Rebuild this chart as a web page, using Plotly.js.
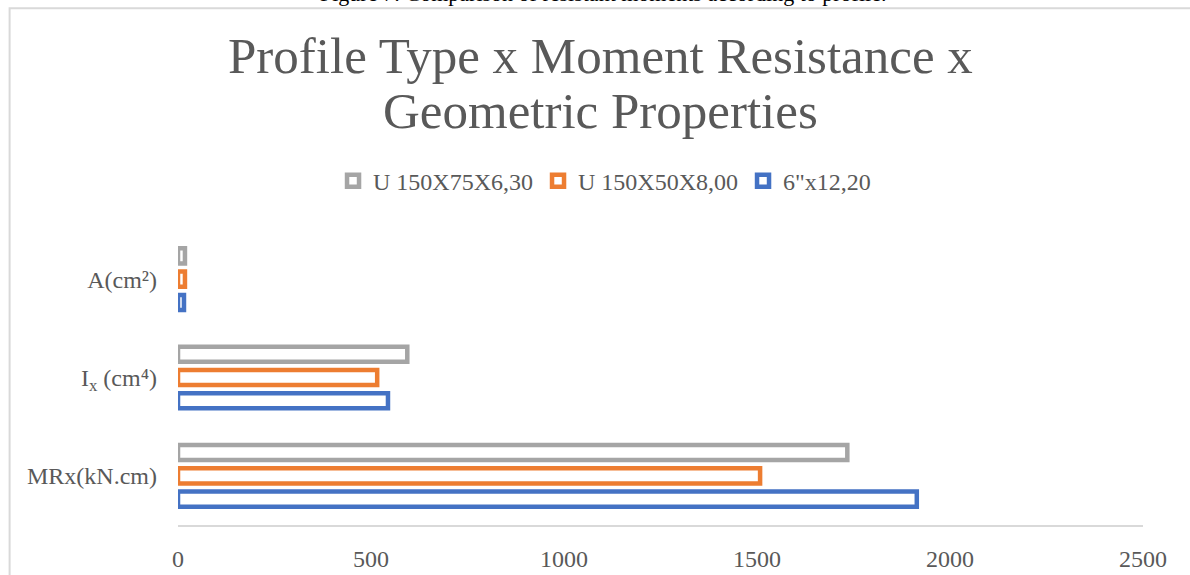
<!DOCTYPE html>
<html>
<head>
<meta charset="utf-8">
<script src="https://cdn.plot.ly/plotly-3.0.1.min.js"></script>
<style>html,body{margin:0;padding:0;background:#fff;}#chart{width:1190px;height:575px;}</style>
</head>
<body>
<div id="chart"></div>
<script>
const categories = ['MRx(kN.cm)', 'I<sub>x</sub> (cm⁴)', 'A(cm²)'];
const seriesNames = ['6"x12,20', 'U 150X50X8,00', 'U 150X75X6,30'];
const seriesColors = ['#4472C4', '#ED7D31', '#A5A5A5'];
const values6x12 = [1914, 544, 15.5];
const valuesU150x50 = [1508, 516, 18];
const valuesU150x75 = [1734, 594, 18];
const xTicks = [0, 500, 1000, 1500, 2000, 2500];
const titleLines = ['Profile Type x Moment Resistance x', 'Geometric Properties'];

const seriesValues = [values6x12, valuesU150x50, valuesU150x75];
const font = 'Liberation Serif';

const traces = seriesValues.map((vals, i) => ({
  type: 'bar',
  orientation: 'h',
  name: seriesNames[i],
  y: categories,
  x: vals,
  marker: { color: '#ffffff', line: { color: seriesColors[i], width: 4.5 } },
  hoverinfo: 'x+name'
}));

const titleY = [1.591, 1.405];
const titleAnnots = titleLines.map((t, i) => ({
  text: t,
  xref: 'paper', yref: 'paper',
  x: 0.438, y: titleY[i], xanchor: 'center', yanchor: 'middle',
  showarrow: false,
  font: { family: font, size: 51, color: '#595959' }
}));

const layout = {
  width: 1190,
  height: 575,
  paper_bgcolor: '#ffffff',
  plot_bgcolor: '#ffffff',
  margin: { l: 178, r: 47, t: 230, b: 50 },
  barmode: 'group',
  bargap: 0.29,
  bargroupgap: 0.35,
  font: { family: font, color: '#595959', size: 24 },
  showlegend: true,
  legend: {
    orientation: 'h',
    traceorder: 'reversed',
    x: 0.442, xanchor: 'center',
    y: 1.166, yanchor: 'middle',
    font: { family: font, size: 24, color: '#595959' },
    itemwidth: 30
  },
  xaxis: {
    range: [0, 2500],
    tickvals: xTicks,
    ticktext: xTicks.map(String),
    showgrid: false,
    zeroline: false,
    showline: true,
    linecolor: '#d9d9d9',
    linewidth: 1.5,
    ticks: '',
    ticklabelstandoff: 12,
    tickfont: { family: font, size: 24, color: '#595959' },
    fixedrange: true
  },
  yaxis: {
    type: 'category',
    showgrid: false,
    zeroline: false,
    showline: false,
    ticks: '',
    ticklabelstandoff: 20,
    tickfont: { family: font, size: 24, color: '#595959' },
    fixedrange: true
  },
  shapes: [{
    type: 'path',
    xref: 'paper', yref: 'paper',
    path: 'M -0.1745 -0.2 L -0.1745 1.7514 L 1.2 1.7514',
    line: { color: '#d9d9d9', width: 2 }
  }],
  annotations: titleAnnots.concat([{
    text: 'Figure 7: Comparison of resistant moments according to profile.',
    xref: 'paper', yref: 'paper',
    x: 0.44, y: 1, xanchor: 'center', yanchor: 'bottom',
    yshift: 222,
    showarrow: false,
    font: { family: font, size: 22, color: '#000000' }
  }])
};

Plotly.newPlot('chart', traces, layout, { displayModeBar: false, staticPlot: true });
</script>
</body>
</html>
